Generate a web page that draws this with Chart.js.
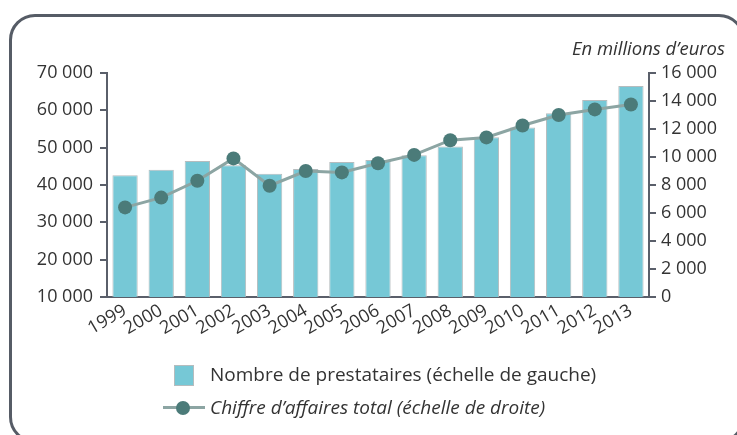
<!DOCTYPE html>
<html>
<head>
<meta charset="utf-8">
<script src="https://cdn.jsdelivr.net/npm/chart.js@4"></script>
<style>
  html, body { margin: 0; padding: 0; background: #fff; }
  body { width: 737px; height: 435px; position: relative; overflow: hidden; font-family: 'Open Sans', sans-serif; color: #333; }
  .cadre { position: absolute; left: 9px; top: 14px; width: 736px; height: 429px; box-sizing: border-box;
           border: 3px solid #565c66; border-radius: 26px; }
  #graf { position: absolute; left: 0; top: 0; }
  .unite { position: absolute; right: 12px; top: 36px; font-size: 18.5px; font-style: italic; line-height: 24px; }
  .leg-txt { position: absolute; left: 210px; font-size: 19px; line-height: 24px; }
  .leg-carre { position: absolute; left: 174px; top: 365px; width: 20px; height: 21px; box-sizing: border-box;
               background: #76c8d6; border: 1px solid #b5bcbe; }
  .leg-ligne { position: absolute; left: 163px; top: 406px; width: 42px; height: 3px; background: #8ca5a3; }
  .leg-point { position: absolute; left: 176px; top: 401px; width: 14px; height: 14px; border-radius: 50%; background: #4b7b79; }
</style>
</head>
<body>
<div class="cadre"></div>
<canvas id="graf" width="737" height="435"></canvas>
<div class="unite">En millions d’euros</div>
<div class="leg-carre"></div>
<div class="leg-txt" style="top:362px">Nombre de prestataires (échelle de gauche)</div>
<div class="leg-ligne"></div>
<div class="leg-point"></div>
<div class="leg-txt" style="top:395px; font-style:italic">Chiffre d’affaires total (échelle de droite)</div>

<script>
const annees = ['1999', '2000', '2001', '2002', '2003', '2004', '2005', '2006',
                '2007', '2008', '2009', '2010', '2011', '2012', '2013'];
// nombre de prestataires (échelle de gauche)
const prestataires = [42600, 44100, 46400, 45300, 43000, 44300, 46150, 46700,
                      48000, 50300, 52800, 55400, 59200, 62800, 66500];
// chiffre d'affaires total, en millions d'euros (échelle de droite)
const chiffreAffaires = [6400, 7100, 8300, 9900, 7950, 9000, 8900, 9550,
                         10150, 11200, 11400, 12250, 13000, 13400, 13750];

const couleurAxe = '#5a5f6a';
const format = v => v.toLocaleString('fr-FR').replace(/\s/g, ' ');

Chart.defaults.font.family = "'Open Sans', sans-serif";
Chart.defaults.font.size = 18;
Chart.defaults.color = '#333';

new Chart(document.getElementById('graf'), {
  type: 'bar',
  data: {
    labels: annees,
    datasets: [
      {
        type: 'line',
        label: 'Chiffre d’affaires total (échelle de droite)',
        data: chiffreAffaires,
        yAxisID: 'y1',
        borderColor: '#8ca5a3',
        borderWidth: 3,
        pointRadius: 7,
        pointBackgroundColor: '#4b7b79',
        pointBorderWidth: 0,
        tension: 0,
        order: 0
      },
      {
        label: 'Nombre de prestataires (échelle de gauche)',
        data: prestataires,
        yAxisID: 'y',
        backgroundColor: '#76c8d6',
        borderColor: '#b5bcbe',
        borderWidth: 1,
        barPercentage: 0.7,
        categoryPercentage: 1,
        order: 1
      }
    ]
  },
  options: {
    responsive: false,
    animation: false,
    layout: { padding: { top: 73, left: 0, right: 0, bottom: 0 } },
    plugins: {
      legend: { display: false },
      tooltip: { enabled: false }
    },
    scales: {
      x: {
        grid: { display: false, drawTicks: false },
        border: { display: true, color: couleurAxe, width: 2 },
        ticks: { autoSkip: false, minRotation: 30, maxRotation: 30, padding: 3 },
        afterFit: s => { s.height = 138; }
      },
      y: {
        position: 'left',
        min: 10000,
        max: 70000,
        grid: { drawOnChartArea: false, drawTicks: true, tickLength: 7, color: couleurAxe, lineWidth: 2 },
        border: { display: true, color: couleurAxe, width: 2 },
        ticks: { stepSize: 10000, padding: 7, callback: v => format(v) },
        afterFit: s => { s.width = 107; }
      },
      y1: {
        position: 'right',
        min: 0,
        max: 16000,
        grid: { drawOnChartArea: false, drawTicks: true, tickLength: 7, color: couleurAxe, lineWidth: 2 },
        border: { display: true, color: couleurAxe, width: 2 },
        ticks: { stepSize: 2000, padding: 5, callback: v => format(v) },
        afterFit: s => { s.width = 88; }
      }
    }
  }
});
</script>
</body>
</html>
